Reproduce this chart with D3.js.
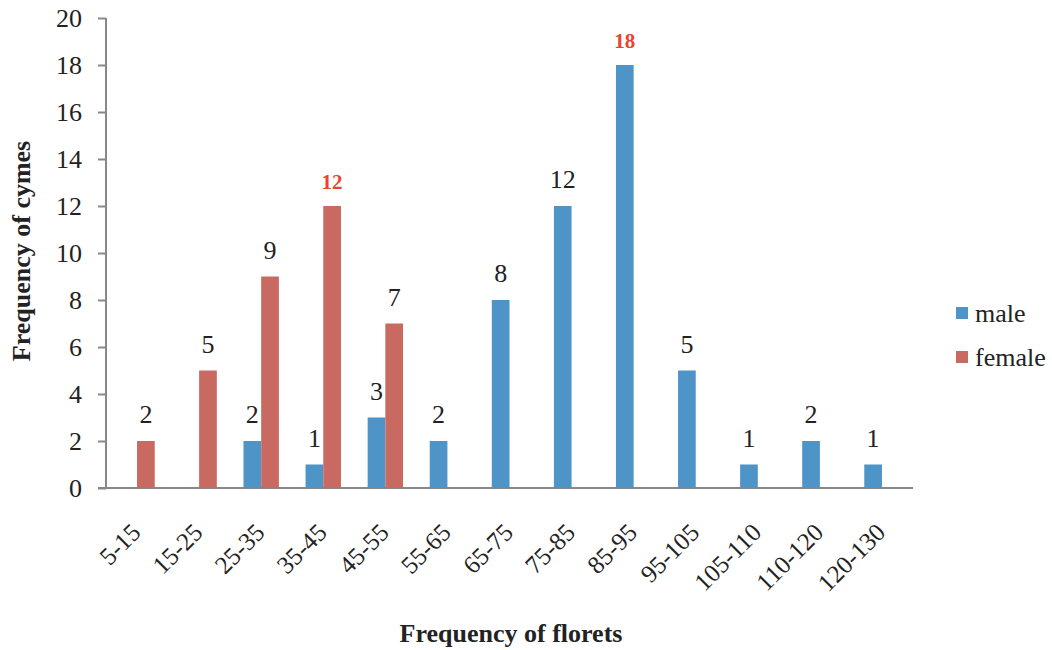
<!DOCTYPE html>
<html>
<head>
<meta charset="utf-8">
<script src="https://cdn.jsdelivr.net/npm/d3@7"></script>
<style>
  html, body { margin: 0; padding: 0; background: #fff; }
</style>
</head>
<body>
<svg id="chart" width="1052" height="650"></svg>
<script>
// Floret-count classes (x categories)
const categories = ["5-15", "15-25", "25-35", "35-45", "45-55", "55-65", "65-75",
                    "75-85", "85-95", "95-105", "105-110", "110-120", "120-130"];
// Number of cymes per class
const maleValues   = [0, 0, 2, 1, 3, 2, 8, 12, 18, 5, 1, 2, 1];
const femaleValues = [2, 5, 9, 12, 7, 0, 0, 0, 0, 0, 0, 0, 0];
const seriesNames  = ["male", "female"];
const yTicks       = [0, 2, 4, 6, 8, 10, 12, 14, 16, 18, 20];

const FONT = "'Liberation Serif', 'Times New Roman', Tinos, serif";
const colors = { male: "#4f94c6", female: "#c86962" };
const peakColor = "#ea4430";
const textColor = "#222";

const svg = d3.select("#chart");
const plot = { left: 106, right: 913, top: 18, bottom: 488 };

const x = d3.scaleBand().domain(categories).range([plot.left, plot.right]).padding(0);
const y = d3.scaleLinear().domain([0, 20]).range([plot.bottom, plot.top]);
const barW = x.bandwidth() * 0.285;
const mid = c => x(c) + x.bandwidth() / 2;

// Y axis
const yAxis = svg.append("g")
  .attr("transform", `translate(${plot.left},0)`)
  .call(d3.axisLeft(y).tickValues(yTicks).tickSize(8).tickPadding(16));
yAxis.select(".domain").attr("stroke", "#888").attr("stroke-width", 2)
  .attr("d", `M0,${plot.top}V${plot.bottom}`);
yAxis.selectAll(".tick line").attr("stroke", "#888").attr("stroke-width", 2);
yAxis.selectAll(".tick text")
  .style("font-family", FONT).style("font-size", "26px").style("fill", textColor)
  .attr("dy", "0.34em");

// X axis line
svg.append("line")
  .attr("x1", plot.left - 8).attr("x2", plot.right)
  .attr("y1", plot.bottom).attr("y2", plot.bottom)
  .attr("stroke", "#888").attr("stroke-width", 2);

// X tick labels, rotated
svg.append("g").selectAll("text")
  .data(categories)
  .join("text")
  .attr("transform", d => `translate(${mid(d) + 5},${plot.bottom + 46}) rotate(-45)`)
  .attr("text-anchor", "end")
  .style("font-family", FONT).style("font-size", "25px").style("fill", textColor)
  .text(d => d);

// Bars and value labels
const rows = categories.map((c, i) => ({ c, male: maleValues[i], female: femaleValues[i] }));
const peaks = { male: d3.max(maleValues), female: d3.max(femaleValues) };

seriesNames.forEach((s, si) => {
  const offset = si === 0 ? -barW : 0;
  const data = rows.filter(r => r[s] > 0);
  svg.append("g").selectAll("rect")
    .data(data)
    .join("rect")
    .attr("x", d => mid(d.c) + offset)
    .attr("y", d => y(d[s]))
    .attr("width", barW)
    .attr("height", d => y(0) - y(d[s]))
    .attr("fill", colors[s]);

  svg.append("g").selectAll("text")
    .data(data)
    .join("text")
    .attr("x", d => mid(d.c) + offset + barW / 2)
    .attr("y", d => y(d[s]) - (d[s] === peaks[s] ? 17 : 18))
    .attr("text-anchor", "middle")
    .style("font-family", FONT)
    .style("font-size", d => d[s] === peaks[s] ? "21px" : "26px")
    .style("font-weight", d => d[s] === peaks[s] ? "bold" : "normal")
    .style("fill", d => d[s] === peaks[s] ? peakColor : textColor)
    .text(d => d[s]);
});

// Legend
const legend = svg.append("g").attr("transform", "translate(956,307)");
seriesNames.forEach((s, i) => {
  const g = legend.append("g").attr("transform", `translate(0,${i * 44})`);
  g.append("rect").attr("width", 12).attr("height", 12).attr("fill", colors[s]);
  g.append("text").attr("x", 19).attr("y", 15)
    .style("font-family", FONT).style("font-size", "26px").style("fill", textColor)
    .text(s);
});

// Axis titles
svg.append("text")
  .attr("x", 511).attr("y", 642)
  .attr("text-anchor", "middle")
  .style("font-family", FONT).style("font-size", "26px").style("font-weight", "bold")
  .style("fill", textColor)
  .text("Frequency of florets");

svg.append("text")
  .attr("transform", "translate(30,251) rotate(-90)")
  .attr("text-anchor", "middle")
  .style("font-family", FONT).style("font-size", "26px").style("font-weight", "bold")
  .style("fill", textColor)
  .text("Frequency of cymes");
</script>
</body>
</html>
